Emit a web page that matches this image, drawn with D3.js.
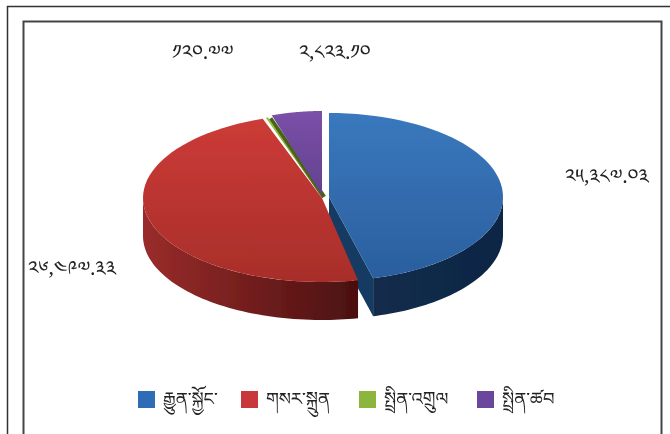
<!DOCTYPE html>
<html><head><meta charset="utf-8">
<script src="https://cdn.jsdelivr.net/npm/d3@7"></script>
<style>
html,body{margin:0;padding:0;background:#fff;overflow:hidden}
svg{display:block}
text{font-family:"Noto Sans Tibetan","Noto Serif Tibetan","Jomolhari","DejaVu Sans","Noto Sans",sans-serif;fill:#222}
</style></head><body>
<svg id="c" width="670" height="434"></svg>
<script>
const categories = ["རྒྱུན་སྐྱོང་", "གསར་སྐྲུན", "སྤྲིན་འགྲུལ", "སྤྲིན་ཚབ"];
const values = [25387.03, 26497.33, 120.77, 2823.10];
const valueLabels = ["༢༥,༣༨༧.༠༣", "༢༦,༤༩༧.༣༣", "༡༢༠.༧༧", "༢,༨༢༣.༡༠"];

const topLight = ["#3a78bd", "#cc3b37", "#9cc244", "#7a50a8"];
const topDark  = ["#2a5f9e", "#a82e2a", "#5f7f22", "#63418f"];
const wallLight = ["#122b4c", "#9a2c2a", "#3f5516", "#4a2f6e"];
const wallDark  = ["#102744", "#4a1010", "#3f5516", "#4a2f6e"];
const cutWall = ["#143a64", "#6a1a18", "#46601a", "#4a2f6e"];
const legendFill = ["#2f6db5", "#c8373a", "#8cb53c", "#6a479c"];

const svg = d3.select("#c");
const defs = svg.append("defs");
const soft = defs.append("filter").attr("id","soft");
soft.append("feGaussianBlur").attr("stdDeviation",0.5);

// frames
const frame = svg.append("g").attr("fill","none").attr("stroke-width",1.5);
frame.append("path").attr("stroke","#333").attr("d","M7.5,440V6.5H670");
frame.append("path").attr("stroke","#444").attr("stroke-width",2).attr("d","M23.5,440V21.5H661.5V440");

const ry = 84, depth = 38;
const centers = [[329,197,174],[322,198,179],[322,197,170],[322,195,158]];
const warp = [0.054,-0.066,0,0];
const angles = d3.pie().sort(null).value(d=>d)(values);

function pt(i,a){
  const c=centers[i];
  const w = a<Math.PI ? a+warp[i]*Math.sin(2*a) : a;
  return [c[0]+c[2]*Math.sin(w), c[1]-ry*Math.cos(w)];
}
function rim(i,a0,a1){return d3.range(0,61).map(k=>pt(i,a0+(a1-a0)*k/60));}
const line = d3.line();

angles.forEach((s,i)=>{
  const g = defs.append("linearGradient").attr("id","t"+i).attr("x1",0).attr("y1",0).attr("x2",0).attr("y2",1);
  g.append("stop").attr("offset",0).attr("stop-color",topLight[i]);
  g.append("stop").attr("offset",1).attr("stop-color",topDark[i]);
  const w = defs.append("linearGradient").attr("id","w"+i).attr("x1",0).attr("y1",0).attr("x2",1).attr("y2",0);
  w.append("stop").attr("offset",0).attr("stop-color",wallLight[i]);
  w.append("stop").attr("offset",1).attr("stop-color",wallDark[i]);
});

const chart = svg.append("g").attr("filter","url(#soft)");

function drawSlice(i){
  const s = angles[i], c = centers[i];
  const apex=[c[0],c[1]];
  const a0=Math.max(s.startAngle,Math.PI/2), a1=Math.min(s.endAngle,Math.PI*1.5);
  if(a1>a0){
    const r=rim(i,a0,a1);
    const low=r.map(p=>[p[0],p[1]+depth]).reverse();
    chart.append("path").attr("d",line(r.concat(low))+"Z").attr("fill",`url(#w${i})`);
  }
  if(i===0){
    const e=pt(i,s.endAngle);
    const q=[apex,e,[e[0],e[1]+depth],[apex[0],apex[1]+depth]];
    chart.append("path").attr("d",line(q)+"Z").attr("fill",cutWall[i]);
  }
  chart.append("path").attr("d",line([apex].concat(rim(i,s.startAngle,s.endAngle)))+"Z").attr("fill",`url(#t${i})`);
}
{
  const s=angles[2], a=pt(2,(s.startAngle+s.endAngle)/2);
  chart.append("path").attr("d",line([[324,197],[a[0]+3.5,a[1]+1]])).attr("stroke","#4a6418").attr("stroke-width",4.5).attr("fill","none");
}
drawSlice(3);
drawSlice(2);
drawSlice(0);
drawSlice(1);

// value labels
const labelPos=[[565,183],[28,275],[172,59],[299,59]];
svg.append("g").attr("filter","url(#soft)").selectAll("text").data(valueLabels).join("text")
 .attr("x",(d,i)=>labelPos[i][0]).attr("y",(d,i)=>labelPos[i][1]).attr("font-size",20).text(d=>d);

// legend
const legendX=d3.scaleOrdinal().domain(categories).range([138,241,359,477]);
const lg=svg.append("g").attr("filter","url(#soft)").selectAll("g").data(categories).join("g")
 .attr("transform",d=>`translate(${legendX(d)},391)`);
lg.append("rect").attr("width",17).attr("height",17).attr("fill",(d,i)=>legendFill[i]);
lg.append("text").attr("x",25).attr("y",14).attr("font-size",18).text(d=>d);
</script>
</body></html>
